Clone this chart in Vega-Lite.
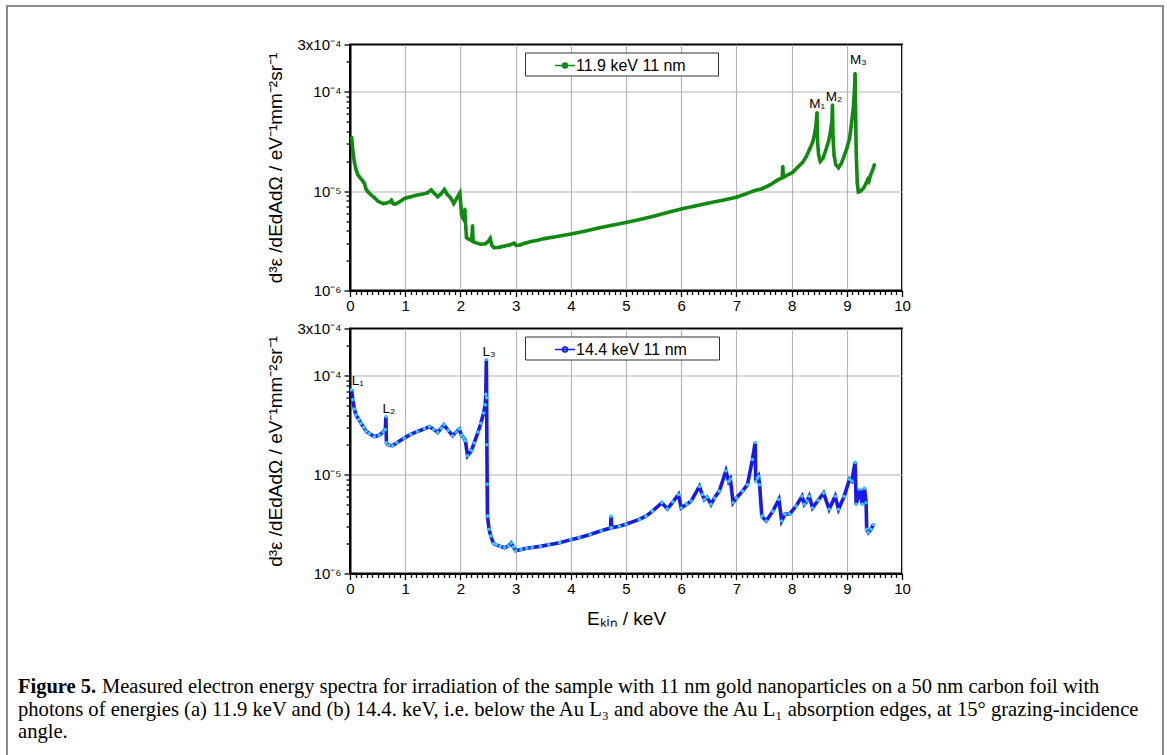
{
  "$schema": "https://vega.github.io/schema/vega-lite/v6.json",
  "padding": {"left": 6, "top": 5, "right": 0, "bottom": 0},
  "background": "white",
  "config": {"view": {"stroke": null}, "font": "Liberation Sans"},
  "datasets": {
    "a": [
      {"E":0.03,"v":3.5e-5},{"E":0.05,"v":2.6e-5},{"E":0.08,"v":1.95e-5},{"E":0.11,"v":1.65e-5},{"E":0.14,"v":1.47e-5},{"E":0.19,"v":1.35e-5},{"E":0.23,"v":1.27e-5},{"E":0.26,"v":1.2e-5},{"E":0.29,"v":1.05e-5},{"E":0.33,"v":9.8e-6},{"E":0.38,"v":9.2e-6},{"E":0.44,"v":8.6e-6},{"E":0.5,"v":8.0e-6},{"E":0.55,"v":7.7e-6},{"E":0.6,"v":7.5e-6},{"E":0.66,"v":7.6e-6},{"E":0.72,"v":7.8e-6},{"E":0.75,"v":8.1e-6},{"E":0.78,"v":7.5e-6},{"E":0.82,"v":7.4e-6},{"E":0.88,"v":7.7e-6},{"E":0.95,"v":8.2e-6},{"E":1.0,"v":8.5e-6},{"E":1.1,"v":8.8e-6},{"E":1.2,"v":9.1e-6},{"E":1.3,"v":9.3e-6},{"E":1.4,"v":9.6e-6},{"E":1.47,"v":1.03e-5},{"E":1.52,"v":9.6e-6},{"E":1.59,"v":8.8e-6},{"E":1.65,"v":9.4e-6},{"E":1.71,"v":1.04e-5},{"E":1.76,"v":9.3e-6},{"E":1.82,"v":8.6e-6},{"E":1.88,"v":7.5e-6},{"E":1.93,"v":8.4e-6},{"E":1.99,"v":9.6e-6},{"E":2.01,"v":7.0e-6},{"E":2.02,"v":5.8e-6},{"E":2.05,"v":5.3e-6},{"E":2.07,"v":5.1e-6},{"E":2.08,"v":6.6e-6},{"E":2.09,"v":5.0e-6},{"E":2.1,"v":4.2e-6},{"E":2.11,"v":3.4e-6},{"E":2.15,"v":3.3e-6},{"E":2.2,"v":3.2e-6},{"E":2.21,"v":3.5e-6},{"E":2.22,"v":4.5e-6},{"E":2.23,"v":3.1e-6},{"E":2.3,"v":3.0e-6},{"E":2.37,"v":2.92e-6},{"E":2.45,"v":2.95e-6},{"E":2.5,"v":3.1e-6},{"E":2.54,"v":3.35e-6},{"E":2.57,"v":2.85e-6},{"E":2.61,"v":2.7e-6},{"E":2.7,"v":2.72e-6},{"E":2.8,"v":2.8e-6},{"E":2.9,"v":2.88e-6},{"E":2.97,"v":3.0e-6},{"E":3.01,"v":2.85e-6},{"E":3.08,"v":2.87e-6},{"E":3.15,"v":2.98e-6},{"E":3.28,"v":3.12e-6},{"E":3.4,"v":3.2e-6},{"E":3.52,"v":3.33e-6},{"E":3.75,"v":3.5e-6},{"E":4.0,"v":3.7e-6},{"E":4.25,"v":3.95e-6},{"E":4.5,"v":4.25e-6},{"E":4.75,"v":4.55e-6},{"E":5.0,"v":4.85e-6},{"E":5.25,"v":5.2e-6},{"E":5.5,"v":5.6e-6},{"E":5.75,"v":6.1e-6},{"E":6.0,"v":6.6e-6},{"E":6.25,"v":7.1e-6},{"E":6.5,"v":7.6e-6},{"E":6.75,"v":8.1e-6},{"E":7.0,"v":8.7e-6},{"E":7.15,"v":9.3e-6},{"E":7.3,"v":1.0e-5},{"E":7.35,"v":1.02e-5},{"E":7.45,"v":1.05e-5},{"E":7.6,"v":1.15e-5},{"E":7.75,"v":1.3e-5},{"E":7.83,"v":1.37e-5},{"E":7.84,"v":1.78e-5},{"E":7.85,"v":1.38e-5},{"E":7.95,"v":1.48e-5},{"E":8.02,"v":1.55e-5},{"E":8.1,"v":1.72e-5},{"E":8.2,"v":1.95e-5},{"E":8.27,"v":2.25e-5},{"E":8.32,"v":2.6e-5},{"E":8.38,"v":3.1e-5},{"E":8.41,"v":3.6e-5},{"E":8.44,"v":4.5e-5},{"E":8.46,"v":6.2e-5},{"E":8.47,"v":3.2e-5},{"E":8.49,"v":2.3e-5},{"E":8.52,"v":2.0e-5},{"E":8.57,"v":2.15e-5},{"E":8.62,"v":2.6e-5},{"E":8.67,"v":3.2e-5},{"E":8.7,"v":3.85e-5},{"E":8.73,"v":5.0e-5},{"E":8.74,"v":7.4e-5},{"E":8.75,"v":3.5e-5},{"E":8.77,"v":2.3e-5},{"E":8.8,"v":1.85e-5},{"E":8.85,"v":1.72e-5},{"E":8.9,"v":1.9e-5},{"E":8.95,"v":2.24e-5},{"E":9.0,"v":2.7e-5},{"E":9.05,"v":3.4e-5},{"E":9.08,"v":4.5e-5},{"E":9.12,"v":7.1e-5},{"E":9.14,"v":1.1e-4},{"E":9.15,"v":1.54e-4},{"E":9.16,"v":6e-5},{"E":9.17,"v":2.5e-5},{"E":9.19,"v":1.2e-5},{"E":9.21,"v":9.8e-6},{"E":9.25,"v":1.0e-5},{"E":9.3,"v":1.07e-5},{"E":9.35,"v":1.2e-5},{"E":9.38,"v":1.31e-5},{"E":9.4,"v":1.26e-5},{"E":9.43,"v":1.45e-5},{"E":9.47,"v":1.65e-5},{"E":9.5,"v":1.85e-5}
    ],
    "b": [
      {"E":0.03,"v":7.2e-5},{"E":0.05,"v":5.7e-5},{"E":0.08,"v":4.6e-5},{"E":0.11,"v":4.0e-5},{"E":0.16,"v":3.6e-5},{"E":0.2,"v":3.3e-5},{"E":0.25,"v":3.0e-5},{"E":0.29,"v":2.75e-5},{"E":0.35,"v":2.6e-5},{"E":0.44,"v":2.43e-5},{"E":0.53,"v":2.5e-5},{"E":0.6,"v":2.7e-5},{"E":0.64,"v":2.85e-5},{"E":0.65,"v":3.87e-5},{"E":0.66,"v":2.1e-5},{"E":0.7,"v":1.98e-5},{"E":0.77,"v":1.96e-5},{"E":0.85,"v":2.1e-5},{"E":0.98,"v":2.34e-5},{"E":1.1,"v":2.55e-5},{"E":1.22,"v":2.73e-5},{"E":1.35,"v":2.9e-5},{"E":1.44,"v":3.06e-5},{"E":1.52,"v":2.85e-5},{"E":1.59,"v":2.67e-5},{"E":1.65,"v":2.95e-5},{"E":1.7,"v":3.19e-5},{"E":1.78,"v":2.8e-5},{"E":1.86,"v":2.47e-5},{"E":1.92,"v":2.7e-5},{"E":1.98,"v":2.88e-5},{"E":2.02,"v":2.5e-5},{"E":2.06,"v":2.35e-5},{"E":2.09,"v":2.2e-5},{"E":2.13,"v":1.55e-5},{"E":2.2,"v":1.75e-5},{"E":2.25,"v":2.09e-5},{"E":2.32,"v":2.7e-5},{"E":2.37,"v":3.3e-5},{"E":2.42,"v":4.2e-5},{"E":2.45,"v":5.07e-5},{"E":2.46,"v":6.5e-5},{"E":2.47,"v":1.46e-4},{"E":2.475,"v":6e-5},{"E":2.48,"v":2.0e-5},{"E":2.485,"v":8e-6},{"E":2.49,"v":3.8e-6},{"E":2.52,"v":2.8e-6},{"E":2.55,"v":2.39e-6},{"E":2.6,"v":2.0e-6},{"E":2.65,"v":1.95e-6},{"E":2.72,"v":1.88e-6},{"E":2.8,"v":1.82e-6},{"E":2.87,"v":1.9e-6},{"E":2.92,"v":2.03e-6},{"E":2.96,"v":1.85e-6},{"E":3.0,"v":1.7e-6},{"E":3.1,"v":1.75e-6},{"E":3.2,"v":1.8e-6},{"E":3.3,"v":1.83e-6},{"E":3.45,"v":1.88e-6},{"E":3.6,"v":1.95e-6},{"E":3.8,"v":2.05e-6},{"E":4.0,"v":2.2e-6},{"E":4.15,"v":2.3e-6},{"E":4.35,"v":2.48e-6},{"E":4.55,"v":2.7e-6},{"E":4.72,"v":2.88e-6},{"E":4.73,"v":3.8e-6},{"E":4.74,"v":2.9e-6},{"E":4.88,"v":3.0e-6},{"E":5.0,"v":3.15e-6},{"E":5.24,"v":3.52e-6},{"E":5.36,"v":3.8e-6},{"E":5.48,"v":4.27e-6},{"E":5.65,"v":5.19e-6},{"E":5.75,"v":4.5e-6},{"E":5.85,"v":5.3e-6},{"E":5.95,"v":6.3e-6},{"E":6.0,"v":4.6e-6},{"E":6.1,"v":5.0e-6},{"E":6.18,"v":5.4e-6},{"E":6.33,"v":7.6e-6},{"E":6.38,"v":6.3e-6},{"E":6.42,"v":5.6e-6},{"E":6.47,"v":5.9e-6},{"E":6.54,"v":5.0e-6},{"E":6.6,"v":5.8e-6},{"E":6.69,"v":6.8e-6},{"E":6.81,"v":1.09e-5},{"E":6.86,"v":8.5e-6},{"E":6.89,"v":9.0e-6},{"E":6.94,"v":5.2e-6},{"E":7.0,"v":5.8e-6},{"E":7.11,"v":6.8e-6},{"E":7.2,"v":7.9e-6},{"E":7.29,"v":1.42e-5},{"E":7.34,"v":2.11e-5},{"E":7.35,"v":8.5e-6},{"E":7.38,"v":9.2e-6},{"E":7.4,"v":9.6e-6},{"E":7.42,"v":7.9e-6},{"E":7.46,"v":3.8e-6},{"E":7.54,"v":3.4e-6},{"E":7.66,"v":4.27e-6},{"E":7.77,"v":5.6e-6},{"E":7.82,"v":3.4e-6},{"E":7.88,"v":3.98e-6},{"E":7.96,"v":3.98e-6},{"E":8.08,"v":4.8e-6},{"E":8.19,"v":6.05e-6},{"E":8.23,"v":5.0e-6},{"E":8.28,"v":5.4e-6},{"E":8.32,"v":6.05e-6},{"E":8.38,"v":4.6e-6},{"E":8.48,"v":5.5e-6},{"E":8.58,"v":6.5e-6},{"E":8.68,"v":4.45e-6},{"E":8.79,"v":6.05e-6},{"E":8.85,"v":4.45e-6},{"E":8.95,"v":6.0e-6},{"E":9.05,"v":9.0e-6},{"E":9.09,"v":8.6e-6},{"E":9.15,"v":1.33e-5},{"E":9.17,"v":5.0e-6},{"E":9.24,"v":7.1e-6},{"E":9.28,"v":5.0e-6},{"E":9.32,"v":7.3e-6},{"E":9.35,"v":5.2e-6},{"E":9.36,"v":2.8e-6},{"E":9.39,"v":2.6e-6},{"E":9.44,"v":2.8e-6},{"E":9.48,"v":3.13e-6}
    ],
    "ann_a": [
      {"E":8.32,"v":6.87e-5,"label":"M₁"},
      {"E":8.62,"v":8.18e-5,"label":"M₂"},
      {"E":9.06,"v":1.91e-4,"label":"M₃"}
    ],
    "ann_b": [
      {"E":0.03,"v":8.05e-5,"label":"L₁"},
      {"E":0.59,"v":4.18e-5,"label":"L₂"},
      {"E":2.40,"v":1.58e-4,"label":"L₃"}
    ],
    "caption": [
      {"line":1,"lead":"Figure 5.","text":"Measured electron energy spectra for irradiation of the sample with 11 nm gold nanoparticles on a 50 nm carbon foil with"},
      {"line":2,"lead":"","text":"photons of energies (a) 11.9 keV and (b) 14.4. keV, i.e. below the Au L₃ and above the Au L₁ absorption edges, at 15° grazing-incidence"},
      {"line":3,"lead":"","text":"angle."}
    ]
  },
  "vconcat": [
    {
      "vconcat": [
        {
          "width": 1156, "height": 750,
          "view": {"stroke": "#8c8c8c", "strokeWidth": 2, "fill": null},
          "data": {"name": "caption"},
          "encoding": {
            "x": {"datum": 0, "type": "quantitative", "scale": {"domain": [0, 1], "nice": false, "zero": false}, "axis": null},
            "y": {"field": "line", "type": "quantitative", "scale": {"domain": [-29.27, 4.06], "reverse": true, "nice": false, "zero": false}, "axis": null}
          },
          "layer": [
            {"transform": [{"filter": "datum.line == 1"}],
             "mark": {"type": "text", "align": "left", "baseline": "middle", "font": "Liberation Serif", "fontSize": 20.5, "fontWeight": "bold", "color": "black", "dx": 11},
             "encoding": {"text": {"field": "lead"}}},
            {"transform": [{"filter": "datum.line == 1"}],
             "mark": {"type": "text", "align": "left", "baseline": "middle", "font": "Liberation Serif", "fontSize": 20.5, "color": "black", "dx": 95},
             "encoding": {"text": {"field": "text"}}},
            {"transform": [{"filter": "datum.line > 1"}],
             "mark": {"type": "text", "align": "left", "baseline": "middle", "font": "Liberation Serif", "fontSize": 20.6, "color": "black", "dx": 11},
             "encoding": {"text": {"field": "text"}}}
          ]
        }
      ],
      "spacing": 0,
      "bounds": "flush"
    },
    {
      "hconcat": [
        {"width": 343, "height": 10, "data": {"values": []}, "mark": "point", "encoding": {}, "view": {"stroke": null}},
        {
          "vconcat": [
            {
              "width": 552, "height": 246,
              "view": {"stroke": "black", "strokeWidth": 2},
              "data": {"name": "a"},
              "encoding": {
                "x": {"field": "E", "type": "quantitative", "scale": {"domain": [0, 10], "nice": false},
                  "axis": {"values": [0,0.1,0.2,0.3,0.4,0.5,0.6,0.7,0.8,0.9,1,1.1,1.2,1.3,1.4,1.5,1.6,1.7,1.8,1.9,2,2.1,2.2,2.3,2.4,2.5,2.6,2.7,2.8,2.9,3,3.1,3.2,3.3,3.4,3.5,3.6,3.7,3.8,3.9,4,4.1,4.2,4.3,4.4,4.5,4.6,4.7,4.8,4.9,5,5.1,5.2,5.3,5.4,5.5,5.6,5.7,5.8,5.9,6,6.1,6.2,6.3,6.4,6.5,6.6,6.7,6.8,6.9,7,7.1,7.2,7.3,7.4,7.5,7.6,7.7,7.8,7.9,8,8.1,8.2,8.3,8.4,8.5,8.6,8.7,8.8,8.9,9,9.1,9.2,9.3,9.4,9.5,9.6,9.7,9.8,9.9,10],
                    "labelExpr": "round(datum.value) == datum.value ? '' + datum.value : ''",
                    "labelFont": "Liberation Sans", "labelFontSize": 15, "labelColor": "black", "labelFlush": false, "labelOverlap": false, "labelPadding": 2,
                    "tickColor": "black", "tickWidth": 1.3,
                    "tickSize": {"condition": {"test": "round(datum.value) == datum.value", "value": 6}, "value": 4},
                    "domainColor": "black", "domainWidth": 2,
                    "grid": true, "gridColor": "#b4b4b4", "gridWidth": 1.2,
                    "gridOpacity": {"condition": {"test": "round(datum.value) == datum.value", "value": 1}, "value": 0},
                    "title": null}},
                "y": {"field": "v", "type": "quantitative", "scale": {"type": "log", "domain": [1e-6, 3e-4], "nice": false},
                  "axis": {"values": [1e-6,2e-6,3e-6,4e-6,5e-6,6e-6,7e-6,8e-6,9e-6,1e-5,2e-5,3e-5,4e-5,5e-5,6e-5,7e-5,8e-5,9e-5,1e-4,2e-4,3e-4],
                    "labelExpr": "datum.value == 0.0003 ? '3x10⁻⁴' : datum.value == 0.0001 ? '10⁻⁴' : datum.value == 0.00001 ? '10⁻⁵' : datum.value == 0.000001 ? '10⁻⁶' : ''",
                    "labelFont": "Liberation Sans", "labelFontSize": 15, "labelColor": "black", "labelFlush": false, "labelOverlap": false, "labelPadding": 3,
                    "tickColor": "black", "tickWidth": 1.3,
                    "tickSize": {"condition": {"test": "datum.value == 0.000001 || datum.value == 0.00001 || datum.value == 0.0001 || datum.value == 0.0003", "value": 6}, "value": 4},
                    "domainColor": "black", "domainWidth": 2,
                    "grid": true, "gridColor": "#b4b4b4", "gridWidth": 1.2,
                    "gridOpacity": {"condition": {"test": "datum.value == 0.000001 || datum.value == 0.00001 || datum.value == 0.0001", "value": 1}, "value": 0},
                    "title": "d³ε /dEdAdΩ / eV⁻¹mm⁻²sr⁻¹", "titleFont": "Liberation Sans", "titleFontSize": 19, "titleFontWeight": "normal", "titleColor": "black", "titlePadding": 12}}
              },
              "layer": [
                {"mark": {"type": "line", "strokeWidth": 3.6, "clip": true},
                 "encoding": {"color": {"datum": "11.9 keV 11 nm", "type": "nominal", "scale": {"range": ["#118a11"]},
                   "legend": {"orient": "none", "legendX": 175, "legendY": 8, "title": null,
                     "symbolType": "M-1,0H1M0.25,0A0.25,0.25,0,1,1,-0.25,0A0.25,0.25,0,1,1,0.25,0Z",
                     "symbolSize": 400, "symbolStrokeWidth": 1.5, "symbolFillColor": "#118a11", "symbolOffset": 27,
                     "labelFont": "Liberation Sans", "labelFontSize": 16, "labelColor": "black", "labelOffset": 0, "labelLimit": 300,
                     "labelExpr": "datum.label + '\u00a0\u00a0\u00a0\u00a0\u2800'",
                     "strokeColor": "#333333", "fillColor": "white", "padding": 2}}}},
                {"mark": {"type": "point", "filled": true, "size": 10, "opacity": 1, "color": "#118a11", "clip": true}},
                {"data": {"name": "ann_a"}, "mark": {"type": "text", "align": "left", "baseline": "alphabetic", "font": "Liberation Sans", "fontSize": 13.5, "color": "black"},
                 "encoding": {"text": {"field": "label"}}},
                {"data": {"values": [{}]}, "mark": {"type": "text", "align": "left", "baseline": "middle", "font": "Liberation Sans", "fontSize": 18, "color": "black"},
                 "encoding": {"x": {"datum": 0.2, "type": "quantitative"}, "y": {"datum": 1.87e-4, "type": "quantitative"}, "text": {"value": "(a)"}}}
              ]
            },
            {
              "width": 552, "height": 245,
              "view": {"stroke": "black", "strokeWidth": 2},
              "data": {"name": "b"},
              "encoding": {
                "x": {"field": "E", "type": "quantitative", "scale": {"domain": [0, 10], "nice": false},
                  "axis": {"values": [0,0.1,0.2,0.3,0.4,0.5,0.6,0.7,0.8,0.9,1,1.1,1.2,1.3,1.4,1.5,1.6,1.7,1.8,1.9,2,2.1,2.2,2.3,2.4,2.5,2.6,2.7,2.8,2.9,3,3.1,3.2,3.3,3.4,3.5,3.6,3.7,3.8,3.9,4,4.1,4.2,4.3,4.4,4.5,4.6,4.7,4.8,4.9,5,5.1,5.2,5.3,5.4,5.5,5.6,5.7,5.8,5.9,6,6.1,6.2,6.3,6.4,6.5,6.6,6.7,6.8,6.9,7,7.1,7.2,7.3,7.4,7.5,7.6,7.7,7.8,7.9,8,8.1,8.2,8.3,8.4,8.5,8.6,8.7,8.8,8.9,9,9.1,9.2,9.3,9.4,9.5,9.6,9.7,9.8,9.9,10],
                    "labelExpr": "round(datum.value) == datum.value ? '' + datum.value : ''",
                    "labelFont": "Liberation Sans", "labelFontSize": 15, "labelColor": "black", "labelFlush": false, "labelOverlap": false, "labelPadding": 2,
                    "tickColor": "black", "tickWidth": 1.3,
                    "tickSize": {"condition": {"test": "round(datum.value) == datum.value", "value": 6}, "value": 4},
                    "domainColor": "black", "domainWidth": 2,
                    "grid": true, "gridColor": "#b4b4b4", "gridWidth": 1.2,
                    "gridOpacity": {"condition": {"test": "round(datum.value) == datum.value", "value": 1}, "value": 0},
                    "title": "Eₖᵢₙ / keV", "titleFont": "Liberation Sans", "titleFontSize": 19, "titleFontWeight": "normal", "titleColor": "black", "titlePadding": 13}},
                "y": {"field": "v", "type": "quantitative", "scale": {"type": "log", "domain": [1e-6, 3e-4], "nice": false},
                  "axis": {"values": [1e-6,2e-6,3e-6,4e-6,5e-6,6e-6,7e-6,8e-6,9e-6,1e-5,2e-5,3e-5,4e-5,5e-5,6e-5,7e-5,8e-5,9e-5,1e-4,2e-4,3e-4],
                    "labelExpr": "datum.value == 0.0003 ? '3x10⁻⁴' : datum.value == 0.0001 ? '10⁻⁴' : datum.value == 0.00001 ? '10⁻⁵' : datum.value == 0.000001 ? '10⁻⁶' : ''",
                    "labelFont": "Liberation Sans", "labelFontSize": 15, "labelColor": "black", "labelFlush": false, "labelOverlap": false, "labelPadding": 3,
                    "tickColor": "black", "tickWidth": 1.3,
                    "tickSize": {"condition": {"test": "datum.value == 0.000001 || datum.value == 0.00001 || datum.value == 0.0001 || datum.value == 0.0003", "value": 6}, "value": 4},
                    "domainColor": "black", "domainWidth": 2,
                    "grid": true, "gridColor": "#b4b4b4", "gridWidth": 1.2,
                    "gridOpacity": {"condition": {"test": "datum.value == 0.000001 || datum.value == 0.00001 || datum.value == 0.0001", "value": 1}, "value": 0},
                    "title": "d³ε /dEdAdΩ / eV⁻¹mm⁻²sr⁻¹", "titleFont": "Liberation Sans", "titleFontSize": 19, "titleFontWeight": "normal", "titleColor": "black", "titlePadding": 12}}
              },
              "layer": [
                {"mark": {"type": "line", "strokeWidth": 3.6, "clip": true},
                 "encoding": {"color": {"datum": "14.4 keV 11 nm", "type": "nominal", "scale": {"range": ["#1a1ae6"]},
                   "legend": {"orient": "none", "legendX": 175, "legendY": 8, "title": null,
                     "symbolType": "M-1,0H1M0.25,0A0.25,0.25,0,1,1,-0.25,0A0.25,0.25,0,1,1,0.25,0Z",
                     "symbolSize": 400, "symbolStrokeWidth": 1.5, "symbolFillColor": "#38c8f5", "symbolOffset": 27,
                     "labelFont": "Liberation Sans", "labelFontSize": 16, "labelColor": "black", "labelOffset": 0, "labelLimit": 300,
                     "labelExpr": "datum.label + '\u00a0\u00a0\u00a0\u00a0\u2800'",
                     "strokeColor": "#333333", "fillColor": "white", "padding": 2}}}},
                {"mark": {"type": "point", "filled": true, "size": 13, "opacity": 1, "color": "#38c8f5", "clip": true}},
                {"data": {"name": "ann_b"}, "mark": {"type": "text", "align": "left", "baseline": "alphabetic", "font": "Liberation Sans", "fontSize": 13.5, "color": "black"},
                 "encoding": {"text": {"field": "label"}}},
                {"data": {"values": [{}]}, "mark": {"type": "text", "align": "left", "baseline": "middle", "font": "Liberation Sans", "fontSize": 18, "color": "black"},
                 "encoding": {"x": {"datum": 0.14, "type": "quantitative"}, "y": {"datum": 1.94e-4, "type": "quantitative"}, "text": {"value": "(b)"}}}
              ]
            }
          ],
          "spacing": 38,
          "bounds": "flush",
          "resolve": {"scale": {"color": "independent"}, "legend": {"color": "independent"}}
        }
      ],
      "spacing": 0,
      "bounds": "flush",
      "resolve": {"scale": {"color": "independent"}, "legend": {"color": "independent"}}
    }
  ],
  "spacing": 38.5,
  "bounds": "flush",
  "resolve": {"scale": {"color": "independent"}, "legend": {"color": "independent"}}
}
